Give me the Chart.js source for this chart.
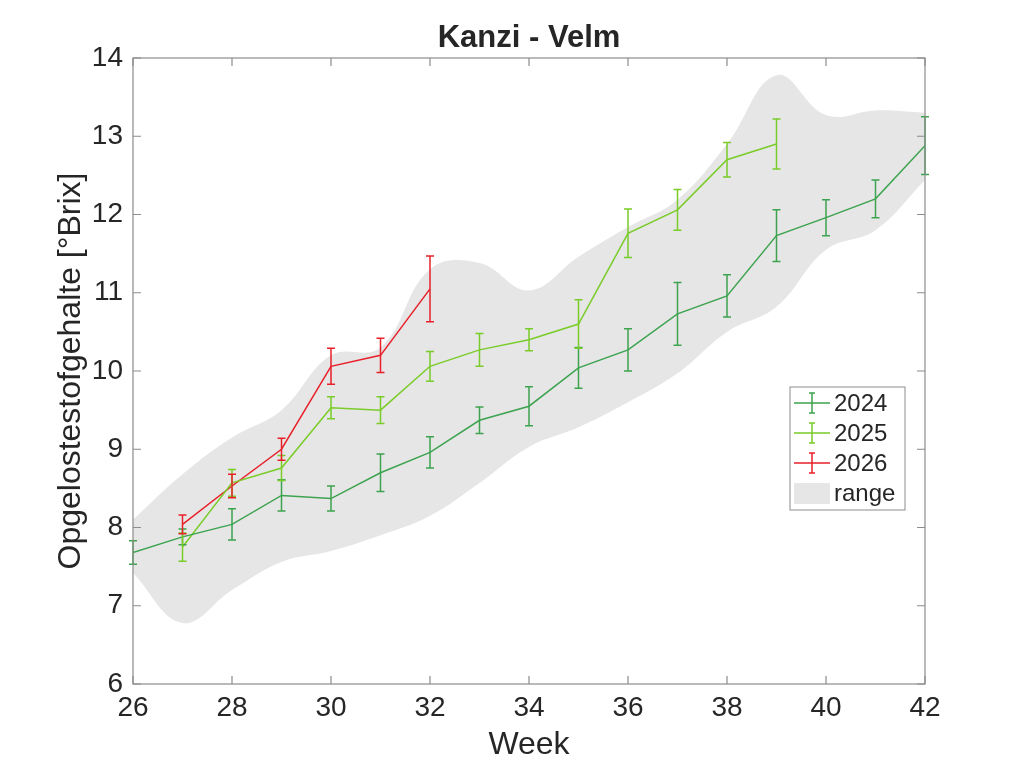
<!DOCTYPE html>
<html>
<head>
<meta charset="utf-8">
<script src="https://cdn.jsdelivr.net/npm/chart.js@4.4.1/dist/chart.umd.min.js"></script>
<style>
  html, body { margin: 0; padding: 0; background: #fff; }
  #wrap { width: 1024px; height: 768px; }
</style>
</head>
<body>
<div id="wrap"><canvas id="c" width="1024" height="768"></canvas></div>
<script>
// week numbers
const weeks2024 = [26, 27, 28, 29, 30, 31, 32, 33, 34, 35, 36, 37, 38, 39, 40, 41, 42];
const weeks2025 = [27, 28, 29, 30, 31, 32, 33, 34, 35, 36, 37, 38, 39];
const weeks2026 = [27, 28, 29, 30, 31, 32];
const rangeWeeks = [26, 27, 28, 29, 30, 31, 32, 33, 34, 35, 36, 37, 38, 39, 40, 41, 42];

// mean Brix per week and error (+/-)
const brix2024 = [7.68, 7.88, 8.04, 8.41, 8.37, 8.70, 8.96, 9.37, 9.55, 10.04, 10.27, 10.73, 10.96, 11.73, 11.96, 12.20, 12.88];
const err2024  = [0.15, 0.10, 0.20, 0.20, 0.16, 0.24, 0.20, 0.17, 0.25, 0.26, 0.27, 0.40, 0.27, 0.33, 0.23, 0.24, 0.37];
const brix2025 = [7.75, 8.57, 8.76, 9.53, 9.50, 10.06, 10.27, 10.40, 10.60, 11.76, 12.06, 12.70, 12.90];
const err2025  = [0.18, 0.17, 0.16, 0.14, 0.17, 0.19, 0.21, 0.14, 0.31, 0.31, 0.26, 0.22, 0.32];
const brix2026 = [8.04, 8.53, 9.00, 10.06, 10.20, 11.05];
const err2026  = [0.12, 0.15, 0.14, 0.23, 0.22, 0.42];

// historic range (grey band)
const rangeLow  = [7.42, 6.78, 7.20, 7.56, 7.70, 7.90, 8.15, 8.57, 9.03, 9.28, 9.60, 9.97, 10.50, 10.82, 11.55, 11.80, 12.44];
const rangeHigh = [8.10, 8.68, 9.15, 9.50, 10.20, 10.30, 11.30, 11.38, 11.03, 11.46, 11.84, 12.19, 12.90, 13.78, 13.27, 13.33, 13.30];

const xTicks = [26, 28, 30, 32, 34, 36, 38, 40, 42];
const yTicks = [6, 7, 8, 9, 10, 11, 12, 13, 14];

const FONT = "'Liberation Sans', Arial, sans-serif";
const AXIS = '#8c8c8c';
const TXT = '#262626';

const pts = (xs, ys) => xs.map((x, i) => ({ x: x, y: ys[i] }));

function series(label, color, xs, ys, err) {
  return {
    label: label, data: pts(xs, ys), err: err,
    borderColor: color, backgroundColor: color,
    borderWidth: 1.5, pointRadius: 0, tension: 0, fill: false, order: 1
  };
}

// error bars drawn through the scales
const errorBars = {
  id: 'errorBars',
  afterDatasetsDraw(chart) {
    const { ctx, scales: { x, y } } = chart;
    ctx.save();
    chart.data.datasets.forEach(ds => {
      if (!ds.err) return;
      ctx.strokeStyle = ds.borderColor;
      ctx.lineWidth = 1.5;
      ds.data.forEach((p, i) => {
        const px = x.getPixelForValue(p.x);
        const top = y.getPixelForValue(p.y + ds.err[i]);
        const bot = y.getPixelForValue(p.y - ds.err[i]);
        ctx.beginPath();
        ctx.moveTo(px, top); ctx.lineTo(px, bot);
        ctx.moveTo(px - 4, top); ctx.lineTo(px + 4, top);
        ctx.moveTo(px - 4, bot); ctx.lineTo(px + 4, bot);
        ctx.stroke();
      });
    });
    ctx.restore();
  }
};

// MATLAB style box with inward ticks, plus the title
const axesBox = {
  id: 'axesBox',
  afterDraw(chart) {
    const { ctx, chartArea: a, scales: { x, y } } = chart;
    ctx.save();
    ctx.strokeStyle = AXIS;
    ctx.lineWidth = 1.2;
    ctx.strokeRect(a.left, a.top, a.right - a.left, a.bottom - a.top);
    ctx.beginPath();
    xTicks.forEach(t => {
      const px = x.getPixelForValue(t);
      ctx.moveTo(px, a.bottom); ctx.lineTo(px, a.bottom - 8);
      ctx.moveTo(px, a.top); ctx.lineTo(px, a.top + 8);
    });
    yTicks.forEach(t => {
      const py = y.getPixelForValue(t);
      ctx.moveTo(a.left, py); ctx.lineTo(a.left + 8, py);
      ctx.moveTo(a.right, py); ctx.lineTo(a.right - 8, py);
    });
    ctx.stroke();
    ctx.fillStyle = TXT;
    ctx.font = 'bold 31px ' + FONT;
    ctx.textAlign = 'center';
    ctx.textBaseline = 'middle';
    ctx.fillText('Kanzi - Velm', (a.left + a.right) / 2, 38);
    ctx.restore();
  }
};

// legend box inside the axes
const boxLegend = {
  id: 'boxLegend',
  afterDraw(chart) {
    const { ctx } = chart;
    const items = chart.data.datasets.filter(d => d.label);
    const left = 790, top = 387, w = 115, rowH = 30;
    ctx.save();
    ctx.fillStyle = '#fff';
    ctx.fillRect(left, top, w, rowH * items.length + 3);
    ctx.strokeStyle = '#8c8c8c';
    ctx.lineWidth = 1;
    ctx.strokeRect(left, top, w, rowH * items.length + 3);
    ctx.font = '24px ' + FONT;
    ctx.textBaseline = 'middle';
    items.forEach((d, i) => {
      const cy = top + 16 + i * rowH;
      if (d.err) {
        ctx.strokeStyle = d.borderColor;
        ctx.lineWidth = 1.5;
        ctx.beginPath();
        ctx.moveTo(794, cy); ctx.lineTo(830, cy);
        ctx.moveTo(812, cy - 10); ctx.lineTo(812, cy + 10);
        ctx.moveTo(809, cy - 10); ctx.lineTo(815, cy - 10);
        ctx.moveTo(809, cy + 10); ctx.lineTo(815, cy + 10);
        ctx.stroke();
      } else {
        ctx.fillStyle = d.backgroundColor;
        ctx.fillRect(794, cy - 10, 36, 21);
      }
      ctx.fillStyle = TXT;
      ctx.fillText(d.label, 834, cy + 1);
    });
    ctx.restore();
  }
};

new Chart(document.getElementById('c'), {
  type: 'line',
  data: {
    datasets: [
      series('2024', '#3da34f', weeks2024, brix2024, err2024),
      series('2025', '#7acc29', weeks2025, brix2025, err2025),
      series('2026', '#e8202a', weeks2026, brix2026, err2026),
      { label: '', data: pts(rangeWeeks, rangeLow), borderWidth: 0, pointRadius: 0, tension: 0.4, fill: false, borderColor: 'rgba(0,0,0,0)', backgroundColor: '#e6e6e6', order: 5 },
      { label: 'range', data: pts(rangeWeeks, rangeHigh), borderWidth: 0, pointRadius: 0, tension: 0.4, fill: '-1', borderColor: 'rgba(0,0,0,0)', backgroundColor: '#e6e6e6', order: 5 }
    ]
  },
  options: {
    responsive: false,
    animation: false,
    devicePixelRatio: 1,
    layout: { padding: { top: 58, right: 99, left: 0, bottom: 0 } },
    plugins: {
      legend: { display: false },
      tooltip: { enabled: false },
      title: { display: false }
    },
    scales: {
      x: {
        type: 'linear', min: 26, max: 42,
        afterBuildTicks: s => { s.ticks = xTicks.map(v => ({ value: v })); },
        afterFit: s => { s.height = 84; },
        grid: { display: false, drawTicks: false },
        border: { display: false },
        ticks: { color: TXT, font: { family: FONT, size: 28 }, padding: 7, maxRotation: 0 },
        title: { display: true, text: 'Week', color: TXT, font: { family: FONT, size: 32 }, padding: { top: 0, bottom: 4 } }
      },
      y: {
        min: 6, max: 14,
        afterBuildTicks: s => { s.ticks = yTicks.map(v => ({ value: v })); },
        afterFit: s => { s.width = 133; },
        grid: { display: false, drawTicks: false },
        border: { display: false },
        ticks: { color: TXT, font: { family: FONT, size: 28 }, padding: 10 },
        title: { display: true, text: 'Opgelostestofgehalte [°Brix]', color: TXT, font: { family: FONT, size: 32 }, padding: { top: 52, bottom: 0 } }
      }
    }
  },
  plugins: [errorBars, axesBox, boxLegend]
});
</script>
</body>
</html>
